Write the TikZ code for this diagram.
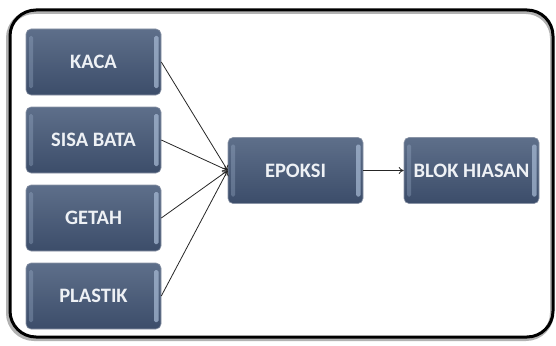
\documentclass[tikz,border=0pt]{standalone}
\usepackage{fontspec}
\setmainfont{Carlito}
\usetikzlibrary{arrows.meta}
\definecolor{boxtop}{HTML}{5E6F8A}
\definecolor{boxbot}{HTML}{3C4D6A}
\definecolor{hilite}{HTML}{A9BCD6}
\definecolor{txt}{HTML}{EEF1F5}
\tikzset{
  block/.style={minimum width=135pt, minimum height=66pt, rounded corners=5pt,
    top color=boxtop, bottom color=boxbot, draw=boxbot!60!white, line width=0.6pt,
    text=txt, font=\bfseries\fontsize{20.5}{23}\selectfont, inner sep=0pt,
    path picture={
      \fill[hilite, opacity=0.3, rounded corners=1.5pt] ([xshift=3pt,yshift=-7pt]path picture bounding box.north west) rectangle ([xshift=7pt,yshift=7pt]path picture bounding box.south west);
      \fill[hilite, opacity=0.7, rounded corners=1.5pt] ([xshift=-7pt,yshift=-7pt]path picture bounding box.north east) rectangle ([xshift=-2.5pt,yshift=7pt]path picture bounding box.south east);
    }},
  conn/.style={-{To[length=5pt,width=7pt]}, line width=0.8pt, draw=black!85}
}
\begin{document}
\begin{tikzpicture}[x=1pt,y=-1pt]
\useasboundingbox (0,0) rectangle (556,345);
\draw[line width=4pt, black!30, rounded corners=26pt] (8,12) rectangle (552,339);
\draw[line width=3pt, black, rounded corners=26pt] (10,10) rectangle (553,337);
\node[block] (kaca) at (93.5,62) {KACA};
\node[block] (sisa) at (93.5,140) {SISA BATA};
\node[block] (getah) at (93.5,218) {GETAH};
\node[block] (plastik) at (93.5,296) {PLASTIK};
\node[block] (epoksi) at (295.5,170.5) {EPOKSI};
\node[block] (blok) at (471.5,170.5) {BLOK HIASAN};
\draw[conn] (kaca.east) -- (epoksi.west);
\draw[conn] (sisa.east) -- (epoksi.west);
\draw[conn] (getah.east) -- (epoksi.west);
\draw[conn] (plastik.east) -- (epoksi.west);
\draw[conn] (epoksi.east) -- (blok.west);
\end{tikzpicture}
\end{document}
